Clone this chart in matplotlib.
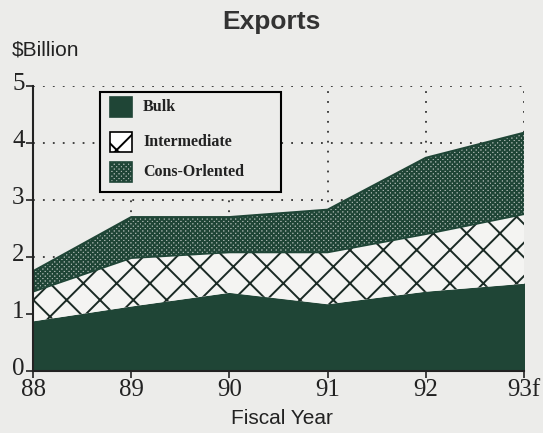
import matplotlib
matplotlib.use("Agg")
import matplotlib.pyplot as plt
from matplotlib.patches import Rectangle
import matplotlib.transforms as mtransforms
import numpy as np

years = ["88", "89", "90", "91", "92", "93f"]
bulk = [0.87, 1.13, 1.37, 1.17, 1.39, 1.53]
intermediate = [0.52, 0.85, 0.71, 0.91, 1.01, 1.22]
cons_oriented = [0.36, 0.72, 0.62, 0.75, 1.34, 1.43]
legend_labels = ["Bulk", "Intermediate", "Cons-Orlented"]
yticks = [0, 1, 2, 3, 4, 5]

green = "#1f4536"
bg = "#ececea"
inter_face = "#f4f4f2"
cons_face = "#aab5b0"

W, H = 543, 433
plt.rcParams['hatch.linewidth'] = 1.4
fig = plt.figure(figsize=(W / 100, H / 100), dpi=100, facecolor=bg)
ax = fig.add_axes([33 / W, 1 - 371 / H, (524 - 33) / W, (371 - 86) / H])
ax.set_facecolor(bg)

x = np.arange(len(years))
b = np.array(bulk)
i_top = b + np.array(intermediate)
c_top = i_top + np.array(cons_oriented)

ax.fill_between(x, 0, b, facecolor=green, edgecolor=green, linewidth=1.0, zorder=3)
ax.fill_between(x, b, i_top, facecolor=inter_face, edgecolor="#1a2a24", hatch="x", linewidth=0, zorder=3)
ax.fill_between(x, i_top, c_top, facecolor=cons_face, edgecolor=green, hatch="xxxxxxx", linewidth=0, zorder=3)
ax.plot(x, i_top, color=green, lw=1.2, zorder=4)
ax.plot(x, c_top, color=green, lw=1.5, zorder=4)

ax.set_xlim(0, len(years) - 1)
ax.set_ylim(0, 5)
ax.set_xticks(x)
ax.set_xticklabels(years)
ax.set_yticks(yticks)
ax.grid(True, linestyle=(0, (1, 4.5)), color="#333333", linewidth=1.3, zorder=1)
ax.set_axisbelow(True)
for s in ["top", "right"]:
    ax.spines[s].set_visible(False)
for s in ["left", "bottom"]:
    ax.spines[s].set_linewidth(1.5)
    ax.spines[s].set_color("#222222")
    ax.spines[s].set_zorder(5)
ax.tick_params(axis="both", direction="out", length=5, width=1.2, colors="#222222",
               labelsize=18, pad=1)
up = mtransforms.ScaledTranslation(0, 3 / 72, fig.dpi_scale_trans)
for lab in ax.get_yticklabels():
    lab.set_transform(lab.get_transform() + up)
for lab in ax.get_xticklabels() + ax.get_yticklabels():
    lab.set_family("Liberation Serif")
    lab.set_color("#222222")

fig.text(0.5, 1 - 22 / H, "Exports", ha="center", va="center", fontsize=19,
         fontweight="bold", family="Liberation Sans", color="#333333")
fig.text(12 / W, 1 - 50 / H, "$Billion", ha="left", va="center", fontsize=15,
         family="Liberation Sans", color="#222222")
fig.text(0.5 + 10 / W, 1 - 419 / H, "Fiscal Year", ha="center", va="center", fontsize=15,
         family="Liberation Sans", color="#222222")

# legend drawn manually in figure pixel space
def px(xp, yp):
    return xp / W, 1 - yp / H

bx0, by0, bx1, by1 = 100, 92, 281, 192
fig.patches.append(Rectangle(px(bx0, by1), (bx1 - bx0) / W, (by1 - by0) / H,
                             transform=fig.transFigure, facecolor=bg, edgecolor="black",
                             linewidth=1.5, zorder=10))
styles = [
    dict(facecolor=green, edgecolor=green, hatch=None),
    dict(facecolor="white", edgecolor="black", hatch="x"),
    dict(facecolor=cons_face, edgecolor=green, hatch="xxxxxxx"),
]
row_y = [107, 142, 172]
for lab, st, ry in zip(legend_labels, styles, row_y):
    r = Rectangle(px(110, ry + 10), 22 / W, 20 / H, transform=fig.transFigure,
                  linewidth=1.2, zorder=11, **{k: v for k, v in st.items() if v is not None})
    fig.patches.append(r)
    fig.text(143 / W, 1 - ry / H, lab, ha="left", va="center", fontsize=11.5,
             fontweight="bold", family="Liberation Serif", color="#222222", zorder=12)

fig.savefig("out.png", dpi=100, facecolor=bg)
